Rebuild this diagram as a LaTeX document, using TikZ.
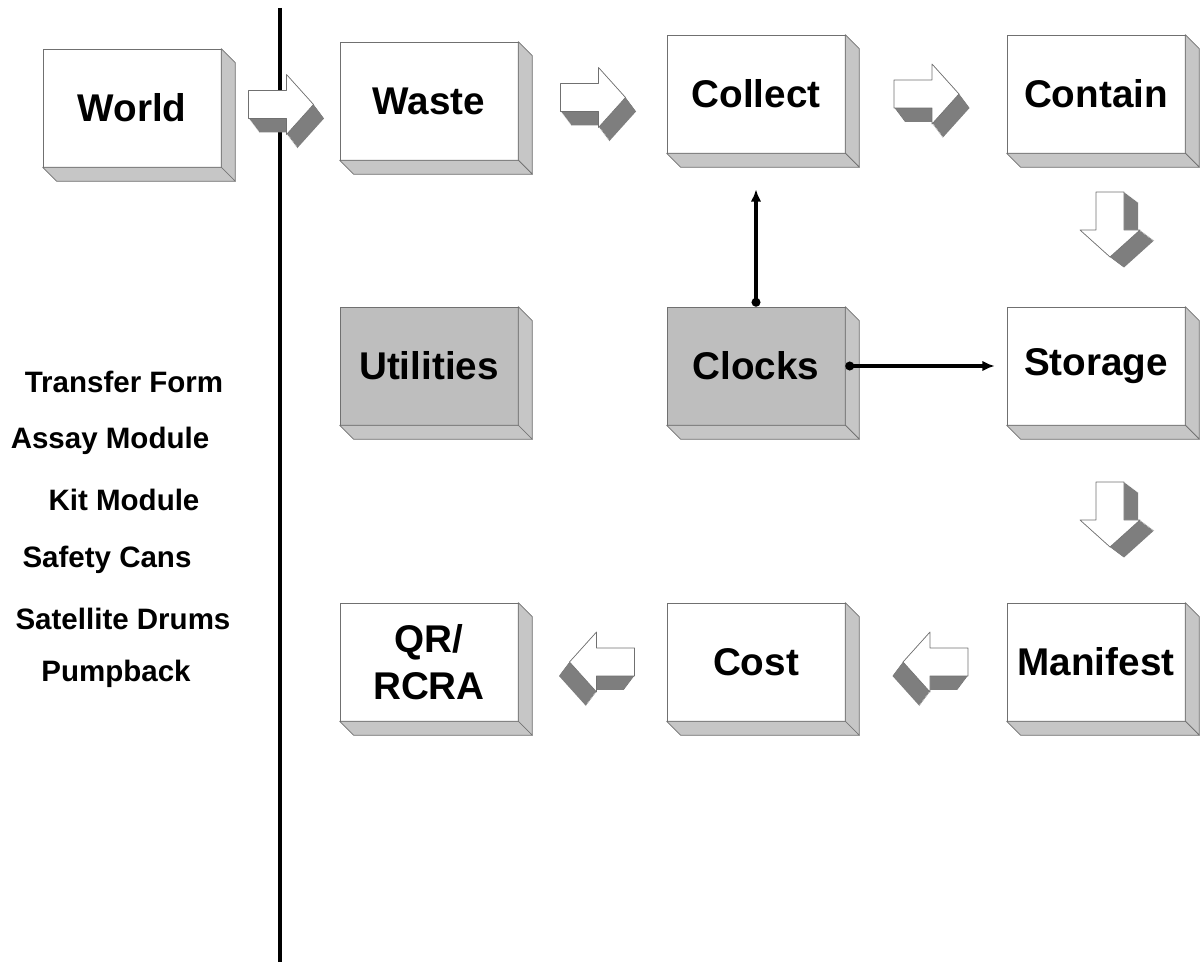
\documentclass[tikz,border=0pt]{standalone}
\usepackage{fontspec}
\setmainfont{Liberation Sans}
\usetikzlibrary{calc,arrows.meta}

\definecolor{edgegray}{HTML}{707070}
\definecolor{sidegray}{HTML}{C6C6C6}
\definecolor{facegray}{HTML}{BEBEBE}
\definecolor{arrowgray}{HTML}{7E7E7E}

\tikzset{
  box/.style={draw=edgegray, fill=white, minimum width=3.56cm, minimum height=2.36cm,
    inner sep=0pt, align=center, font=\fontsize{22}{27}\selectfont\bfseries},
  greybox/.style={box, fill=facegray},
  boxside/.style={draw=edgegray, fill=sidegray, line join=round},
  item/.style={font=\fontsize{16.8}{20}\selectfont\bfseries},
  link/.style={line width=1.8pt, {Circle[length=5pt]}-{Latex[length=7pt,width=6pt]}},
  % hollow 3D block arrow, pointing along local +x
  pics/blockarrow/.style={code={
    \foreach \k in {1,...,14}
      \fill[arrowgray, shift={(0.75*\k,\k)}]
        (-32,-14) -- (6,-14) -- (6,-30) -- (33,0) -- (6,30) -- (6,14) -- (-32,14) -- cycle;
    \draw[edgegray, fill=white, line join=round]
      (-32,-14) -- (6,-14) -- (6,-30) -- (33,0) -- (6,30) -- (6,14) -- (-32,14) -- cycle;
  }}
}

\begin{document}
\begin{tikzpicture}[x=0.02cm, y=-0.02cm]
  \useasboundingbox (0,0) rectangle (1204,962);

  % divider
  \coordinate (divtop) at (280,8);
  \coordinate (divbot) at (280,962);
  \draw[line width=2.3pt] (divtop) -- (divbot);

  % boxes
  \node[box] (world) at (132,108) {World};
  \node[box] (waste) at (429,101) {Waste};
  \node[box] (collect) at (756,94) {Collect};
  \node[box] (contain) at (1096,94) {Contain};
  \node[greybox] (utilities) at (429,366) {Utilities};
  \node[greybox] (clocks) at (756,366) {Clocks};
  \node[box] (storage) at (1096,366) {Storage};
  \node[box] (qr) at (429,662) {QR/\\RCRA};
  \node[box] (cost) at (756,662) {Cost};
  \node[box] (manifest) at (1096,662) {Manifest};

  % depth of the boxes
  \foreach \b in {world,waste,collect,contain,utilities,clocks,storage,qr,cost,manifest} {
    \filldraw[boxside] (\b.north east) -- ++(14,14) -- ([shift={(14,14)}]\b.south east) -- (\b.south east) -- cycle;
    \filldraw[boxside] (\b.south west) -- ([shift={(14,14)}]\b.south west) -- ([shift={(14,14)}]\b.south east) -- (\b.south east) -- cycle;
  }

  % flow arrows
  \pic at ($(world.east)!0.5!(waste.west)$) {blockarrow};
  \pic at ($(waste.east)!0.5!(collect.west)$) {blockarrow};
  \pic at ($(collect.east)!0.5!(contain.west)$) {blockarrow};
  \pic[rotate=-90, yscale=-1] at ($(contain.south)!0.5!(storage.north)+(14,-6)$) {blockarrow};
  \pic[rotate=-90, yscale=-1] at ($(storage.south)!0.5!(manifest.north)+(14,0)$) {blockarrow};
  \pic[xscale=-1] at ($(manifest.west)!0.5!(cost.east)+(10,0)$) {blockarrow};
  \pic[xscale=-1] at ($(cost.west)!0.5!(qr.east)+(10,0)$) {blockarrow};

  % clock links
  \draw[link] (clocks.north) -- ($(collect.south)+(0,36)$);
  \draw[link] (clocks.east) -- ($(storage.west)+(-12,0)$);

  % side list
  \node[item] (xfer) at (124,382) {Transfer Form};
  \node[item] (assay) at (110,441) {Assay Module};
  \node[item] (kit) at (124,500) {Kit Module};
  \node[item] (cans) at (107,560) {Safety Cans};
  \node[item] (drums) at (123,619) {Satellite Drums};
  \node[item] (pump) at (116,674) {Pumpback};
\end{tikzpicture}
\end{document}
